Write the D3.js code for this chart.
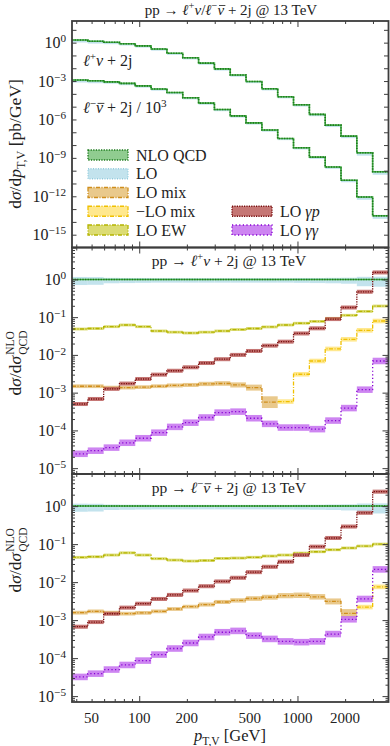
<!DOCTYPE html>
<html lang="en">
<head>
<meta charset="UTF-8">
<title>pp -> l nu + 2j @ 13 TeV</title>
<style>
  html, body { margin: 0; background: #fff; }
  text { font-family: 'Liberation Serif', 'DejaVu Serif', serif; fill: #222; }
  .frame { fill: none; stroke: #3c3c3c; stroke-width: 1.8; }
  .tick line { stroke: #3c3c3c; stroke-width: 1; }
</style>
</head>
<body>
<svg width="390" height="746"></svg>
<script src="https://d3js.org/d3.v7.min.js"></script>
<script>
// bin edges in pT,V [GeV]
const edges = [37.6, 47.3, 59.6, 75.0, 94.4, 118.9, 149.7, 188.4, 237.2, 298.6, 376,
               473, 596, 750, 944, 1189, 1497, 1884, 2372, 2986, 3760];

// top panel: NLO QCD dsigma/dpT [pb/GeV]
const wpNLO = [1.6, 1.3, 1.07, 0.83, 0.56, 0.32, 0.15, 0.066, 0.025, 8.9e-3,
               2.95e-3, 9.3e-4, 2.5e-4, 6.0e-5, 1.4e-5, 2.5e-6, 3.6e-7, 5.0e-8, 2.5e-9, 8.3e-11];
const wmNLO = [1.2e-3, 1.05e-3, 8.7e-4, 6.6e-4, 4.2e-4, 2.4e-4, 1.26e-4, 5.0e-5, 1.9e-5, 6.0e-6,
               1.9e-6, 5.4e-7, 1.5e-7, 3.3e-8, 6.2e-9, 1.15e-9, 1.95e-10, 1.8e-11, 8.9e-13, 3.0e-14];

// LO / NLO QCD band (low, high)
const loLow  = [0.71, 0.72, 0.79, 0.80, 0.81, 0.82, 0.82, 0.82, 0.82, 0.82,
                0.82, 0.82, 0.82, 0.82, 0.81, 0.80, 0.79, 0.77, 0.66, 0.64];
const loHigh = [1.16, 1.15, 1.10, 1.09, 1.09, 1.08, 1.08, 1.08, 1.08, 1.08,
                1.08, 1.08, 1.08, 1.08, 1.09, 1.09, 1.10, 1.11, 1.17, 1.18];

// middle panel: l+ nu ratios
const ewP  = [0.0485, 0.050, 0.056, 0.062, 0.056, 0.043, 0.040, 0.038, 0.040, 0.043,
              0.047, 0.050, 0.055, 0.062, 0.069, 0.077, 0.093, 0.112, 0.142, 0.197];
const mixP = [1.48e-3, 1.48e-3, 1.36e-3, 1.36e-3, 1.4e-3, 1.48e-3, 1.55e-3, 1.6e-3, 1.7e-3, 1.75e-3,
              1.6e-3, 1.36e-3, 5.6e-4, null, null, null, null, null, null, null];
const mixUncP = [0.12, 0.12, 0.12, 0.12, 0.12, 0.12, 0.13, 0.13, 0.14, 0.15,
                 0.17, 0.2, 0.43, 0, 0, 0, 0, 0, 0, 0];
const negMixP = [null, null, null, null, null, null, null, null, null, null,
                 null, null, null, 5.8e-4, 3.07e-3, 6.9e-3, 0.0144, 0.0259, 0.0448, 0.079];
const gpP  = [5.0e-4, 6.8e-4, 1.26e-3, 1.74e-3, 2.3e-3, 3.0e-3, 3.8e-3, 4.7e-3, 6.1e-3, 7.7e-3,
              0.0100, 0.0127, 0.0176, 0.0224, 0.037, 0.0506, 0.089, 0.18, 0.47, 1.53];
const ggP  = [2.4e-5, 2.9e-5, 3.5e-5, 4.7e-5, 6.2e-5, 8.7e-5, 1.24e-4, 1.6e-4, 2.2e-4, 2.96e-4,
              3.14e-4, 2.1e-4, 1.49e-4, 1.19e-4, 1.19e-4, 1.08e-4, 1.82e-4, 3.9e-4, 1.2e-3, 6.9e-3];

// bottom panel: l- nubar ratios
const ewM  = [0.0448, 0.0465, 0.0516, 0.059, 0.0516, 0.0413, 0.038, 0.0358, 0.037, 0.042,
              0.043, 0.045, 0.0485, 0.0516, 0.058, 0.063, 0.071, 0.079, 0.089, 0.100];
const mixM = [1.57e-3, 1.7e-3, 1.57e-3, 1.48e-3, 1.55e-3, 1.7e-3, 1.96e-3, 2.26e-3, 2.57e-3, 3.0e-3,
              3.3e-3, 3.7e-3, 4.0e-3, 4.4e-3, 4.5e-3, 4.1e-3, 3.1e-3, 1.5e-3, null, null];
const mixUncM = [0.12, 0.12, 0.12, 0.12, 0.12, 0.12, 0.12, 0.12, 0.13, 0.13,
                 0.14, 0.15, 0.16, 0.17, 0.18, 0.18, 0.2, 0.3, 0, 0];
const negMixM = [null, null, null, null, null, null, null, null, null, null,
                 null, null, null, null, null, null, null, null, 2.2e-3, 7.5e-3];
const gpM  = [6.7e-4, 8.9e-4, 1.47e-3, 2.13e-3, 2.7e-3, 3.6e-3, 4.6e-3, 6.0e-3, 7.8e-3, 0.0104,
              0.013, 0.0183, 0.0253, 0.0344, 0.0516, 0.0857, 0.145, 0.29, 0.667, 2.4];
const ggM  = [3.2e-5, 3.9e-5, 5.0e-5, 6.6e-5, 8.6e-5, 1.24e-4, 1.79e-4, 2.5e-4, 3.6e-4, 4.8e-4,
              5.2e-4, 3.9e-4, 3.2e-4, 2.75e-4, 2.63e-4, 2.75e-4, 4.3e-4, 1.05e-3, 3.6e-3, 0.0216];

const xTickLabels = [50, 100, 200, 500, 1000, 2000];
const xMinor = [40, 50, 60, 70, 80, 90, 200, 300, 400, 500, 600, 700, 800, 900, 2000, 3000];
const xMajor = [100, 1000];

const sty = {
  nlo:  {fill: "#7cc37c", line: "#1c7a1c", under: "#4db24d", dash: "1.3,1.3"},
  lo:   {fill: "#b9deea", line: "#93cbdd", dash: "1,1.5"},
  mix:  {fill: "#e5bf78", line: "#d08e1c", dash: "4,1.5,1,1.5"},
  nmix: {fill: "#ffe47a", line: "#f0c000", dash: "4,1.5,1,1.5"},
  ew:   {fill: "#d6d65c", line: "#b4b400", dash: "4,1.5,1,1.5"},
  gp:   {fill: "#bb5e5c", line: "#780c0c", dash: "1.2,1.2"},
  gg:   {fill: "#c470ee", line: "#8600d2", dash: "1.2,2.4"}
};

const svg = d3.select("svg");
svg.append("rect").attr("width", 390).attr("height", 746).attr("fill", "#fff");

const L = 72, R = 388.5;
const x = d3.scaleLog().domain([edges[0], edges[20]]).range([L, R]);

const panels = [
  {top: 21, bottom: 247.5, dom: [1e-16, 49], ratio: false},
  {top: 247.5, bottom: 474, dom: [7e-6, 7], ratio: true},
  {top: 474, bottom: 702, dom: [7e-6, 7], ratio: true}
];

// rich text helper: parts = [{t, it, sup, sub, bar}]
function rich(sel, parts, size) {
  let shift = 0;
  parts.forEach(p => {
    const target = p.sup ? -size * 0.36 : p.sub ? size * 0.25 : 0;
    const ts = sel.append("tspan").text(p.t).attr("dy", target - shift);
    shift = target;
    if (p.it) ts.attr("font-style", "italic");
    if (p.sup || p.sub) ts.attr("font-size", size * 0.7);
    if (p.bar) ts.classed("vbar", true).attr("data-size", size);
  });
  return sel;
}

function stepPts(vals) {
  const pts = [];
  vals.forEach((v, i) => {
    if (v == null) { pts.push({x: edges[i], v: null}); return; }
    pts.push({x: edges[i], v: v}, {x: edges[i + 1], v: v});
  });
  return pts;
}

function series(g, y, vals, lo, hi, s, lw) {
  const bins = vals.map((v, i) => ({i, v})).filter(d => d.v != null);
  g.append("g").selectAll("rect").data(bins).join("rect")
    .attr("x", d => x(edges[d.i]))
    .attr("width", d => x(edges[d.i + 1]) - x(edges[d.i]))
    .attr("y", d => y(d.v * hi(d.i)))
    .attr("height", d => Math.max(0.8, y(d.v * lo(d.i)) - y(d.v * hi(d.i))))
    .attr("fill", s.fill).attr("fill-opacity", 0.85);
  const line = d3.line().defined(d => d.v != null).x(d => x(d.x)).y(d => y(d.v));
  if (s.under) {
    g.append("path").datum(stepPts(vals)).attr("d", line)
      .attr("fill", "none").attr("stroke", s.under).attr("stroke-width", lw || 1.3);
  }
  g.append("path").datum(stepPts(vals)).attr("d", line)
    .attr("fill", "none").attr("stroke", s.line).attr("stroke-width", lw || 1.3)
    .attr("stroke-dasharray", s.dash);
}

const c = (u) => (i) => 1 + (typeof u === "number" ? u : u[i]);
const ci = (u) => (i) => 1 / (1 + (typeof u === "number" ? u : u[i]));

panels.forEach((p, k) => {
  p.y = d3.scaleLog().domain(p.dom).range([p.bottom, p.top]);
  const clipId = "clip" + k;
  svg.append("clipPath").attr("id", clipId).append("rect")
    .attr("x", L).attr("y", p.top).attr("width", R - L).attr("height", p.bottom - p.top);
  p.g = svg.append("g").attr("clip-path", `url(#${clipId})`);
});

// ---- top panel
{
  const p = panels[0], y = p.y;
  [wpNLO, wmNLO].forEach(vals => {
    const gm = vals.map((v, i) => Math.sqrt(loLow[i] * loHigh[i]));
    series(p.g, y, vals.map((v, i) => v * gm[i]), i => loLow[i] / gm[i] * 0.9,
           i => loHigh[i] / gm[i], sty.lo, 1);
    series(p.g, y, vals, ci(0.04), c(0.04), sty.nlo, 1.6);
  });
}

// ---- ratio panels
[[panels[1], ewP, mixP, mixUncP, negMixP, gpP, ggP],
 [panels[2], ewM, mixM, mixUncM, negMixM, gpM, ggM]].forEach(([p, ew, mix, mixU, nmix, gp, gg]) => {
  const y = p.y;
  const ones = edges.slice(1).map(() => 1);
  series(p.g, y, ones, i => loLow[i], i => loHigh[i], sty.lo, 1);
  series(p.g, y, ones, ci(0.025), c(0.025), sty.nlo, 1.5);
  series(p.g, y, ew, ci(0.09), c(0.09), sty.ew);
  series(p.g, y, mix, ci(mixU), c(mixU), sty.mix);
  series(p.g, y, nmix, ci(0.15), c(0.15), sty.nmix);
  series(p.g, y, gp, ci(0.13), c(0.13), sty.gp);
  series(p.g, y, gg, ci(0.22), c(0.22), sty.gg);
});

// ---- axes, ticks and frames
panels.forEach((p, k) => {
  const y = p.y;
  const ax = svg.append("g");
  const tick = (axis, tr) => ax.append("g").attr("transform", tr)
      .call(axis.tickSizeOuter(0).tickFormat(""))
      .call(g => g.select(".domain").remove());
  tick(d3.axisBottom(x).tickValues(xMajor).tickSizeInner(-6), `translate(0,${p.bottom})`);
  tick(d3.axisBottom(x).tickValues(xMinor).tickSizeInner(-3), `translate(0,${p.bottom})`);
  tick(d3.axisTop(x).tickValues(xMajor).tickSizeInner(-6), `translate(0,${p.top})`);
  tick(d3.axisTop(x).tickValues(xMinor).tickSizeInner(-3), `translate(0,${p.top})`);

  let majors, minors, labels;
  if (!p.ratio) {
    majors = d3.range(-16, 2).map(e => Math.pow(10, e));
    minors = [];
    labels = [0, -3, -6, -9, -12, -15];
  } else {
    majors = d3.range(-5, 1).map(e => Math.pow(10, e));
    minors = [];
    d3.range(-6, 1).forEach(e => d3.range(2, 10).forEach(m => {
      const v = m * Math.pow(10, e);
      if (v > p.dom[0] && v < p.dom[1]) minors.push(v);
    }));
    labels = [0, -1, -2, -3, -4, -5];
  }
  const majLen = p.ratio ? 6 : 4.5;
  tick(d3.axisLeft(y).tickValues(majors).tickSizeInner(-majLen), `translate(${L},0)`);
  tick(d3.axisRight(y).tickValues(majors).tickSizeInner(-majLen), `translate(${R},0)`);
  if (minors.length) {
    tick(d3.axisLeft(y).tickValues(minors).tickSizeInner(-3), `translate(${L},0)`);
    tick(d3.axisRight(y).tickValues(minors).tickSizeInner(-3), `translate(${R},0)`);
  }

  labels.forEach(e => {
    const t = svg.append("text").attr("x", 66).attr("y", y(Math.pow(10, e)) + 5.5)
      .attr("text-anchor", "end").attr("font-size", 16);
    rich(t, [{t: "10"}, {t: (e < 0 ? "\u2212" + (-e) : "" + e), sup: true}], 16);
  });

  svg.append("rect").attr("class", "frame")
    .attr("x", L).attr("y", p.top).attr("width", R - L).attr("height", p.bottom - p.top);
});

// x tick labels
xTickLabels.forEach(v => {
  svg.append("text").attr("x", x(v)).attr("y", 723).attr("text-anchor", "middle")
    .attr("font-size", 15).text(v);
});

// axis titles
rich(svg.append("text").attr("x", 230).attr("y", 741).attr("text-anchor", "middle").attr("font-size", 16.5),
  [{t: "p", it: true}, {t: "T,V", sub: true}, {t: " [GeV]"}], 16.5);

rich(svg.append("text").attr("text-anchor", "middle").attr("font-size", 17.5)
  .attr("transform", "translate(21,144) rotate(-90)"),
  [{t: "d"}, {t: "\u03c3", it: true}, {t: "/d"}, {t: "p", it: true}, {t: "T,V", sub: true}, {t: " [pb/GeV]"}], 17.5);

function ratioTitle(cx, cy) {
  const g = svg.append("g");
  const t = g.append("text").attr("font-size", 17.5).attr("x", 0).attr("y", 0);
  t.append("tspan").text("d");
  t.append("tspan").text("\u03c3").attr("font-style", "italic");
  t.append("tspan").text("/d");
  t.append("tspan").text("\u03c3").attr("font-style", "italic");
  const w0 = t.node().getComputedTextLength() + 1;
  t.append("tspan").attr("x", w0).attr("dy", -7).attr("font-size", 11.5).text("NLO");
  t.append("tspan").attr("x", w0).attr("dy", 12.5).attr("font-size", 11.5).text("QCD");
  const bb = t.node().getBBox();
  g.attr("transform", `translate(${cx},${cy}) rotate(-90) translate(${-bb.width / 2},0)`);
}
ratioTitle(21, 363);
ratioTitle(21, 560);

// panel titles
const lep = (sign, bar) => [{t: "\u2113", it: true}, {t: sign, sup: true},
  {t: "\u03bd", it: true, bar: bar}];
rich(svg.append("text").attr("x", 231).attr("y", 14.5).attr("text-anchor", "middle").attr("font-size", 15),
  [{t: "pp \u2192 "}, ...lep("+", false), {t: "/"}, ...lep("\u2212", true), {t: " + 2j @ 13 TeV"}], 15);
rich(svg.append("text").attr("x", 229).attr("y", 266).attr("text-anchor", "middle").attr("font-size", 15.5),
  [{t: "pp \u2192 "}, ...lep("+", false), {t: " + 2j @ 13 TeV"}], 15.5);
rich(svg.append("text").attr("x", 229).attr("y", 493).attr("text-anchor", "middle").attr("font-size", 15.5),
  [{t: "pp \u2192 "}, ...lep("\u2212", true), {t: " + 2j @ 13 TeV"}], 15.5);

// curve labels in top panel
rich(svg.append("text").attr("x", 83).attr("y", 66).attr("font-size", 16),
  [...lep("+", false), {t: " + 2j"}], 16);
rich(svg.append("text").attr("x", 83).attr("y", 113).attr("font-size", 16),
  [...lep("\u2212", true), {t: " + 2j / 10"}, {t: "3", sup: true}], 16);

// legend
const legendItems = [
  {key: "nlo", label: [{t: "NLO QCD"}], col: 0, row: 0},
  {key: "lo", label: [{t: "LO"}], col: 0, row: 1},
  {key: "mix", label: [{t: "LO mix"}], col: 0, row: 2},
  {key: "nmix", label: [{t: "\u2212LO mix"}], col: 0, row: 3},
  {key: "ew", label: [{t: "LO EW"}], col: 0, row: 4},
  {key: "gp", label: [{t: "LO "}, {t: "\u03b3p", it: true}], col: 1, row: 3},
  {key: "gg", label: [{t: "LO "}, {t: "\u03b3\u03b3", it: true}], col: 1, row: 4}
];
const legX = [88, 232], legY0 = 155, legDy = 18.75;
legendItems.forEach(d => {
  const s = sty[d.key], cy = legY0 + d.row * legDy, x0 = legX[d.col];
  svg.append("rect").attr("x", x0).attr("y", cy - 5).attr("width", 40).attr("height", 10)
    .attr("fill", s.fill).attr("fill-opacity", 0.85)
    .attr("stroke", s.line).attr("stroke-width", 1.3).attr("stroke-dasharray", s.dash);
  rich(svg.append("text").attr("x", x0 + 48).attr("y", cy + 5.5).attr("font-size", 16), d.label, 16);
});

// bars over nu (antineutrino)
svg.selectAll("tspan.vbar").each(function () {
  const size = +this.getAttribute("data-size");
  const p0 = this.getStartPositionOfChar(0), p1 = this.getEndPositionOfChar(0);
  const yb = p0.y - size * 0.6;
  svg.append("line").attr("x1", p0.x + size * 0.1).attr("x2", p1.x + size * 0.08)
    .attr("y1", yb).attr("y2", yb).attr("stroke", "#222").attr("stroke-width", size * 0.055);
});
</script>
</body>
</html>
